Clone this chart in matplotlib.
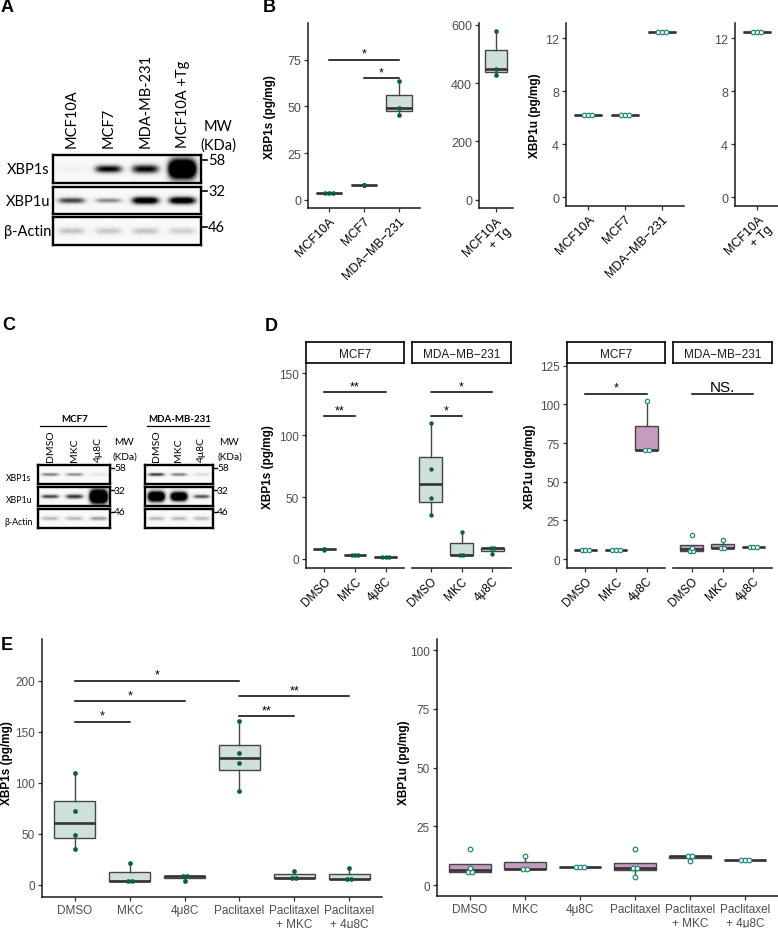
import numpy as np
import matplotlib
matplotlib.use("Agg")
import matplotlib.pyplot as plt

plt.rcParams['font.family'] = ['Liberation Sans', 'DejaVu Sans']

# ---------------- DATA ----------------
# Panel A western blot (relative band intensities per lane)
a_lanes = ["MCF10A", "MCF7", "MDA-MB-231", "MCF10A +Tg"]
a_rows = ["XBP1s", "XBP1u", "β-Actin"]
a_mw = ["58", "32", "46"]
a_xbp1s = [0.08, 0.95, 0.95, 1.9]
a_xbp1u = [0.75, 0.5, 1.15, 1.15]
a_actin = [0.30, 0.28, 0.30, 0.25]

# Panel C western blots
c_lanes = ["DMSO", "MKC", "4μ8C"]
c_rows = ["XBP1s", "XBP1u", "β-Actin"]
c_mcf7_xbp1s = [0.55, 0.50, 0.15]
c_mcf7_xbp1u = [0.75, 0.80, 1.9]
c_mcf7_actin = [0.35, 0.35, 0.45]
c_mda_xbp1s = [0.80, 0.55, 0.20]
c_mda_xbp1u = [1.7, 1.6, 0.70]
c_mda_actin = [0.35, 0.35, 0.35]

# Panel B ELISA
b_lines = ["MCF10A", "MCF7", "MDA−MB−231"]
b_tg = ["MCF10A\n+ Tg"]
b_xbp1s = [[3.8, 3.8, 3.8], [7.7, 7.9, 8.1], [45.6, 49.0, 63.4]]
b_xbp1s_tg = [[426, 448, 577]]
b_xbp1u = [[6.2, 6.2, 6.2], [6.2, 6.2, 6.2], [12.45, 12.45, 12.45]]
b_xbp1u_tg = [[12.5, 12.5, 12.5]]
b_sig = [(1, 3, 75, "*"), (2, 3, 65, "*")]

# Panel D
d_facets = ["MCF7", "MDA−MB−231"]
d_treat = ["DMSO", "MKC", "4μ8C"]
d_xbp1s_mcf7 = [[7.6, 8.0, 8.4], [3.5, 3.5, 3.5], [1.6, 1.6, 1.6]]
d_xbp1s_mda = [[35.6, 49.0, 72.7, 109.9], [3.5, 3.5, 22.0], [3.8, 9.0, 9.0]]
d_xbp1u_mcf7 = [[6.0, 6.0, 6.0], [6.0, 6.0, 6.0], [70.5, 70.5, 102.0]]
d_xbp1u_mda = [[5.4, 5.4, 7.1, 15.3], [6.8, 6.8, 12.5], [7.8, 7.8, 7.8]]
d_sig_s_mcf7 = [(1, 3, 134.7, "**"), (1, 2, 115.3, "**")]
d_sig_s_mda = [(1, 3, 134.7, "*"), (1, 2, 115.3, "*")]
d_sig_u_mcf7 = [(1, 3, 107, "*")]
d_sig_u_mda = [(1, 3, 107, "NS.")]

# Panel E
e_treat = ["DMSO", "MKC", "4μ8C", "Paclitaxel", "Paclitaxel\n+ MKC", "Paclitaxel\n+ 4μ8C"]
e_xbp1s = [[35.6, 49.0, 72.7, 109.9], [3.5, 3.5, 22.0], [3.8, 9.0, 9.0],
           [92.3, 119.1, 128.9, 160.3], [6.6, 6.6, 14.0], [6.0, 6.0, 16.3]]
e_xbp1u = [[5.4, 5.4, 7.1, 15.3], [6.8, 6.8, 12.5], [7.8, 7.8, 7.8],
           [3.5, 7.2, 7.2, 15.3], [10.1, 12.5, 12.5], [10.6, 10.6, 10.6]]
e_sig = [(1, 4, 200, "*"), (1, 3, 180, "*"), (1, 2, 160, "*"),
         (4, 6, 185, "**"), (4, 5, 165, "**")]

# ---------------- STYLE ----------------
W, H = 778, 929
fig = plt.figure(figsize=(W / 100, H / 100), dpi=100)

FILL_S = "#cfdfdb"
FILL_U = "#c69bbf"
DOT_S = "#0b5d4a"
DOT_U = "#1f8a78"
TICKC = "#4d4d4d"


def add_ax(x0, y0, x1, y1):
    return fig.add_axes([x0 / W, 1 - y1 / H, (x1 - x0) / W, (y1 - y0) / H])


def ftext(x, y, s, **kw):
    fig.text(x / W, 1 - y / H, s, **kw)


def style_ax(ax, left=True, fs=9):
    for s in ["top", "right"]:
        ax.spines[s].set_visible(False)
    ax.spines["bottom"].set_linewidth(1.1)
    ax.spines["bottom"].set_color("#1a1a1a")
    if left:
        ax.spines["left"].set_linewidth(1.1)
        ax.spines["left"].set_color("#1a1a1a")
    else:
        ax.spines["left"].set_visible(False)
        ax.tick_params(axis="y", left=False, labelleft=False)
    ax.tick_params(length=3, width=0.9, color="#333333", labelsize=fs,
                   labelcolor=TICKC, pad=2)
    ax.patch.set_alpha(0)


def boxes(ax, groups, fill, hollow, dot_px, msize):
    pos = list(range(1, len(groups) + 1))
    ax.boxplot(groups, positions=pos, widths=0.75, patch_artist=True,
               showcaps=False, showfliers=False, manage_ticks=False,
               boxprops=dict(facecolor=fill, edgecolor="#454545", linewidth=1.0),
               medianprops=dict(color="#333333", linewidth=1.9, solid_capstyle="butt"),
               whiskerprops=dict(color="#454545", linewidth=1.0))
    bb = ax.get_position()
    lo, hi = ax.get_xlim()
    unit = dot_px * (hi - lo) / (bb.width * W)
    for p, vals in zip(pos, groups):
        rv = np.round(vals, 3)
        for u in sorted(set(rv)):
            k = int(np.sum(rv == u))
            offs = (np.arange(k) - (k - 1) / 2) * unit
            if hollow:
                ax.plot(p + offs, [u] * k, "o", ms=msize, mfc="white", mec=DOT_U,
                        mew=0.9, zorder=5, clip_on=False)
            else:
                ax.plot(p + offs, [u] * k, "o", ms=msize, mfc=DOT_S, mec=DOT_S,
                        mew=0.3, zorder=5, clip_on=False)


def sig(ax, items, fs=9):
    for a, b, y, s in items:
        ax.plot([a, b], [y, y], color="black", lw=1.1, clip_on=False)
        f = 11 if s == "NS." else fs
        ax.text((a + b) / 2, y, s, ha="center", va="bottom", fontsize=f,
                color="black")


def ylab(x, y, s, fs=8.5):
    ftext(x, y, s, rotation=90, ha="center", va="center", fontsize=fs,
          fontweight="bold")


def plabel(x, y, s):
    ftext(x, y, s, ha="left", va="center", fontsize=13, fontweight="bold")


def blot(x0, x1, rows_y, vals_list, thick_list):
    n = len(vals_list[0])
    for (ya, yb), vals, th in zip(rows_y, vals_list, thick_list):
        ax = add_ax(x0, ya, x1, yb)
        xs = np.linspace(0, n, 300)
        ys = np.linspace(0, 1, 60)
        X, Y = np.meshgrid(xs, ys)
        img = np.full_like(X, 0.05)
        for i, (v, t) in enumerate(zip(vals, th)):
            img += v * np.exp(-np.abs((X - (i + 0.5)) / 0.38) ** 4) * \
                np.exp(-((Y - 0.5) / t) ** 2)
        ax.imshow(np.clip(img, 0, 1), extent=(0, n, 0, 1), origin="lower",
                  cmap="Greys", vmin=0, vmax=1, aspect="auto",
                  interpolation="bilinear")
        ax.set_xticks([])
        ax.set_yticks([])
        for s in ax.spines.values():
            s.set_linewidth(1.7)


BLOT_FONT = ['Lato', 'DejaVu Sans']

# ---------------- PANEL A ----------------
plabel(1, 8, "A")
a_rows_y = [(156, 184), (188, 215), (218, 246)]
blot(53, 201, a_rows_y, [a_xbp1s, a_xbp1u, a_actin],
     [[0.12, 0.15, 0.17, 0.36], [0.12, 0.10, 0.15, 0.15], [0.13] * 4])
lw_a = (201 - 53) / len(a_lanes)
for i, lab in enumerate(a_lanes):
    ftext(53 + lw_a * (i + 0.5), 148, lab, rotation=90, ha="center", va="bottom",
          fontsize=10.5, family=BLOT_FONT)
ftext(218, 127, "MW", ha="center", va="center", fontsize=10.5, family=BLOT_FONT)
ftext(218, 146, "(KDa)", ha="center", va="center", fontsize=10.5, family=BLOT_FONT)
for (ya, yb), lab in zip(a_rows_y, a_rows):
    ftext(28, (ya + yb) / 2, lab, ha="center", va="center", fontsize=10.5,
          family=BLOT_FONT)
for lab, yy in zip(a_mw, [161, 192, 228]):
    fig.add_artist(plt.Line2D([202 / W, 207 / W], [1 - yy / H, 1 - yy / H],
                              color="black", lw=1.2))
    ftext(208, yy, lab, ha="left", va="center", fontsize=10.5, family=BLOT_FONT)

# ---------------- PANEL C ----------------
plabel(2, 326, "C")
c_rows_y = [(466, 485), (488, 507), (510, 529)]
for (bx0, bx1, title, vals, th, mwx) in [
        (38, 110, "MCF7", [c_mcf7_xbp1s, c_mcf7_xbp1u, c_mcf7_actin],
         [[0.09] * 3, [0.11, 0.13, 0.38], [0.11] * 3], 124),
        (145, 213, "MDA-MB-231", [c_mda_xbp1s, c_mda_xbp1u, c_mda_actin],
         [[0.09] * 3, [0.28, 0.25, 0.11], [0.11] * 3], 229)]:
    blot(bx0, bx1, c_rows_y, vals, th)
    ftext((bx0 + bx1) / 2 + 1, 420, title, ha="center", va="center", fontsize=7,
          fontweight="bold", family=BLOT_FONT)
    fig.add_artist(plt.Line2D([(bx0 + 2) / W, (bx1 - 4) / W], [1 - 427 / H, 1 - 427 / H],
                              color="black", lw=0.9))
    lwc = (bx1 - bx0) / 3
    for i, lab in enumerate(c_lanes):
        ftext(bx0 + lwc * (i + 0.5), 462, lab, rotation=90, ha="center",
              va="bottom", fontsize=7.5, family=BLOT_FONT)
    ftext(mwx, 443, "MW", ha="center", va="center", fontsize=7.3, family=BLOT_FONT)
    ftext(mwx + 1, 457, "(KDa)", ha="center", va="center", fontsize=7.3,
          family=BLOT_FONT)
    for lab, yy in zip(a_mw, [469, 491, 513]):
        fig.add_artist(plt.Line2D([(bx1 + 1) / W, (bx1 + 4) / W], [1 - yy / H, 1 - yy / H],
                                  color="black", lw=1.0))
        ftext(bx1 + 4, yy, lab, ha="left", va="center", fontsize=7.3,
              family=BLOT_FONT)
for (ya, yb), lab in zip(c_rows_y, c_rows):
    ftext(19, (ya + yb) / 2 + 3, lab, ha="center", va="center", fontsize=6.3,
          family=BLOT_FONT)

# ---------------- PANEL B ----------------
plabel(263, 7, "B")
ax = add_ax(308, 24, 420, 209)
ax.set_xlim(0.4, 3.6); ax.set_ylim(-4.45, 94.66)
style_ax(ax)
boxes(ax, b_xbp1s, FILL_S, False, 3.6, 3.0)
ax.set_yticks([0, 25, 50, 75])
ax.set_xticks([1, 2, 3])
ax.set_xticklabels(b_lines, rotation=45, ha="right", va="top",
                   rotation_mode="anchor", color="black")
sig(ax, b_sig)
ylab(270, 117, "XBP1s (pg/mg)")

ax = add_ax(479, 24, 513, 209)
ax.set_xlim(0.4, 1.6); ax.set_ylim(-28.5, 605.8)
style_ax(ax)
boxes(ax, b_xbp1s_tg, FILL_S, False, 3.6, 3.0)
ax.set_yticks([0, 200, 400, 600])
ax.set_xticks([1])
ax.set_xticklabels(b_tg, rotation=45, ha="right", va="top",
                   rotation_mode="anchor", color="black", multialignment="right")

ax = add_ax(566, 24, 684, 207)
ax.set_xlim(0.4, 3.6); ax.set_ylim(-0.66, 13.15)
style_ax(ax)
boxes(ax, b_xbp1u, FILL_U, True, 3.8, 3.2)
ax.set_yticks([0, 4, 8, 12])
ax.set_xticks([1, 2, 3])
ax.set_xticklabels(b_lines, rotation=45, ha="right", va="top",
                   rotation_mode="anchor", color="black")
ylab(535, 116, "XBP1u (pg/mg)")

ax = add_ax(735, 24, 778, 207)
ax.set_xlim(0.4, 1.57); ax.set_ylim(-0.66, 13.15)
style_ax(ax)
boxes(ax, b_xbp1u_tg, FILL_U, True, 3.8, 3.2)
ax.set_yticks([0, 4, 8, 12])
ax.set_xticks([1])
ax.set_xticklabels(b_tg, rotation=45, ha="right", va="top",
                   rotation_mode="anchor", color="black", multialignment="right")

# ---------------- PANEL D ----------------
plabel(265, 327, "D")


def strip(x0, x1, label):
    sa = add_ax(x0, 343, x1, 364)
    sa.set_xticks([]); sa.set_yticks([])
    for s in sa.spines.values():
        s.set_linewidth(1.2)
    sa.text(0.5, 0.45, label, ha="center", va="center", fontsize=8.5,
            color="#1a1a1a", transform=sa.transAxes)


d_specs = [
    (306, 404, d_xbp1s_mcf7, d_sig_s_mcf7, True, (-7.27, 158.3), [0, 50, 100, 150], FILL_S, False, d_facets[0]),
    (412, 511, d_xbp1s_mda, d_sig_s_mda, False, (-7.27, 158.3), [0, 50, 100, 150], FILL_S, False, d_facets[1]),
    (567, 665, d_xbp1u_mcf7, d_sig_u_mcf7, True, (-5.82, 126.75), [0, 25, 50, 75, 100, 125], FILL_U, True, d_facets[0]),
    (673, 772, d_xbp1u_mda, d_sig_u_mda, False, (-5.82, 126.75), [0, 25, 50, 75, 100, 125], FILL_U, True, d_facets[1]),
]
for x0, x1, data, sg, left, yl, yt, fill, hollow, fac in d_specs:
    ax = add_ax(x0, 364, x1, 569)
    ax.set_xlim(0.4, 3.6); ax.set_ylim(*yl)
    style_ax(ax, left=left, fs=8.5)
    boxes(ax, data, fill, hollow, 3.8 if hollow else 3.4, 3.1 if hollow else 2.8)
    if left:
        ax.set_yticks(yt)
    ax.set_xticks([1, 2, 3])
    ax.set_xticklabels(d_treat, rotation=45, ha="right", va="top",
                       rotation_mode="anchor", color="black", fontsize=8.5)
    sig(ax, sg)
    strip(x0, x1, fac)
ylab(268, 467, "XBP1s (pg/mg)")
ylab(530, 467, "XBP1u (pg/mg)")

# ---------------- PANEL E ----------------
plabel(1, 646, "E")
ax = add_ax(42, 640, 382, 898)
ax.set_xlim(0.4, 6.6); ax.set_ylim(-11.75, 240.8)
style_ax(ax, fs=8.5)
boxes(ax, e_xbp1s, FILL_S, False, 4.0, 3.1)
ax.set_yticks([0, 50, 100, 150, 200])
ax.set_xticks(range(1, 7))
ax.set_xticklabels(e_treat, fontsize=8.5, color=TICKC, ha="center",
                   multialignment="center")
sig(ax, e_sig)
ylab(7, 763, "XBP1s (pg/mg)")

ax = add_ax(437, 640, 778, 897)
ax.set_xlim(0.4, 6.6); ax.set_ylim(-4.68, 104.7)
style_ax(ax, fs=8.5)
boxes(ax, e_xbp1u, FILL_U, True, 4.2, 3.3)
ax.set_yticks([0, 25, 50, 75, 100])
ax.set_xticks(range(1, 7))
ax.set_xticklabels(e_treat, fontsize=8.5, color=TICKC, ha="center",
                   multialignment="center")
ylab(404, 763, "XBP1u (pg/mg)")

fig.savefig("out.png", dpi=100)
